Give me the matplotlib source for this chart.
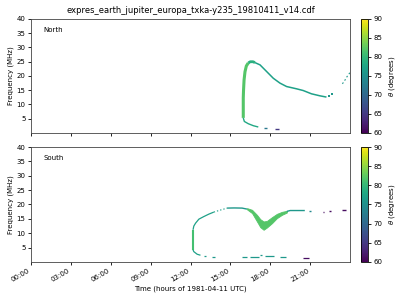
import matplotlib
matplotlib.use("Agg")
import matplotlib.pyplot as plt
import numpy as np
from matplotlib.colors import Normalize
from matplotlib.cm import ScalarMappable

title = "expres_earth_jupiter_europa_txka-y235_19810411_v14.cdf"
xticks = [0, 3, 6, 9, 12, 15, 18, 21]
xticklabels = ["00:00", "03:00", "06:00", "09:00", "12:00", "15:00", "18:00", "21:00"]
yticks = [5, 10, 15, 20, 25, 30, 35, 40]
cticks = [60, 65, 70, 75, 80, 85, 90]

# ---- North hemisphere emission (time in hours, frequency MHz, theta deg)
n_rise_t = [15.97, 15.97, 15.99, 16.03, 16.10, 16.20, 16.35]
n_rise_f = [5.3, 12.3, 15.0, 18.6, 21.5, 23.5, 24.6]
n_rise_th = 82
n_peak_t = [16.35, 16.50, 16.70, 16.85]
n_peak_f = [24.6, 25.0, 25.0, 24.7]
n_peak_th = 79
n_fall_t = [16.85, 17.23, 17.73, 18.23, 18.73, 19.23, 19.98, 20.48, 21.10, 21.73, 22.23]
n_fall_f = [24.7, 23.9, 21.55, 19.2, 17.5, 16.3, 15.5, 14.9, 13.75, 13.05, 12.6]
n_fall_th = 77
n_dots_t = [22.43, 22.65]
n_dots_f = [13.05, 13.6]
n_dots_th = 76
n_end_t = [23.43, 23.60, 23.78, 23.93, 24.0]
n_end_f = [17.25, 18.4, 19.8, 20.75, 21.2]
n_end_th = 76
n_tail_t = [15.97, 16.05, 16.35, 16.73, 17.10]
n_tail_f = [5.3, 4.05, 3.25, 2.55, 2.1]
n_tail_th = 78
n_dash1_t = [17.55, 17.72]
n_dash1_f = [1.75, 1.75]
n_dash1_th = 72
n_dash2_t = [18.35, 18.65]
n_dash2_f = [1.4, 1.4]
n_dash2_th = 65

# ---- South hemisphere emission
s_vert_t = [12.19, 12.19]
s_vert_f = [4.2, 11.2]
s_vert_th = 81
s_left_t = [12.19, 12.25, 12.38, 12.63, 13.0, 13.38, 13.75]
s_left_f = [11.2, 12.5, 13.5, 14.9, 15.8, 16.65, 17.35]
s_left_th = 77
s_leftdots_t = [13.75, 14.13, 14.5, 14.75]
s_leftdots_f = [17.35, 17.9, 18.4, 18.75]
s_leftdots_th = 77
s_top_t = [14.75, 15.3, 15.88, 16.25]
s_top_f = [18.75, 18.8, 18.75, 18.4]
s_top_th = 76
s_v_t = [16.25, 16.63, 17.0, 17.25, 17.5, 17.75, 18.13, 18.5, 18.88, 19.25]
s_v_lo = [18.3, 17.0, 14.1, 12.1, 11.2, 12.0, 13.5, 15.25, 16.4, 17.2]
s_v_hi = [18.75, 18.15, 16.4, 14.9, 14.1, 14.3, 15.6, 16.75, 17.45, 17.8]
s_v_th = 82
s_flat_t = [19.25, 19.5, 20.6]
s_flat_f = [17.6, 17.9, 17.9]
s_flat_th = 76
s_dash_t = [20.9, 21.05]
s_dash_f = [17.6, 17.6]
s_dash_th = 74
s_purple_t = [[21.95, 22.05], [22.45, 22.55], [23.38, 23.68]]
s_purple_f = [17.5, 17.8, 18.1]
s_purple_th = 61
s_low_t = [12.19, 12.25, 12.5, 12.75]
s_low_f = [4.2, 3.6, 2.7, 2.35]
s_low_th = 77
s_lowdash_t = [[13.05, 13.15], [13.63, 13.88], [15.88, 16.25], [16.5, 17.13],
               [17.2, 17.38], [17.63, 18.25], [18.75, 19.2]]
s_lowdash_f = [2.1, 1.65, 1.65, 1.9, 2.35, 2.0, 1.65]
s_lowdash_th = 76
s_lowpurple_t = [20.5, 20.95]
s_lowpurple_f = [1.3, 1.3]
s_lowpurple_th = 61

cmap = plt.get_cmap("viridis")
norm = Normalize(vmin=60, vmax=90)
FS = 5

fig = plt.figure(figsize=(4, 3), dpi=100)
ax1 = fig.add_axes([0.0775, 0.5567, 0.7975, 0.38])
ax2 = fig.add_axes([0.0775, 0.1267, 0.7975, 0.3833])
cax1 = fig.add_axes([0.9025, 0.5567, 0.0175, 0.38])
cax2 = fig.add_axes([0.9025, 0.1267, 0.0175, 0.3833])


def seg(ax, t, f, th, lw, ls="-"):
    ax.plot(t, f, color=cmap(norm(th)), lw=lw, ls=ls, solid_capstyle="butt",
            dash_capstyle="butt")


# North
seg(ax1, n_rise_t, n_rise_f, n_rise_th, 2.2)
seg(ax1, n_peak_t, n_peak_f, n_peak_th, 2.0)
seg(ax1, n_fall_t, n_fall_f, n_fall_th, 1.1)
ax1.scatter(n_dots_t, n_dots_f, s=1.2, marker="s", color=cmap(norm(n_dots_th)), lw=0)
seg(ax1, n_end_t, n_end_f, n_end_th, 0.8, ls=(0, (1.5, 2)))
seg(ax1, n_tail_t, n_tail_f, n_tail_th, 1.0)
seg(ax1, n_dash1_t, n_dash1_f, n_dash1_th, 1.0)
seg(ax1, n_dash2_t, n_dash2_f, n_dash2_th, 1.0)

# South
seg(ax2, s_vert_t, s_vert_f, s_vert_th, 1.5)
seg(ax2, s_left_t, s_left_f, s_left_th, 0.9)
seg(ax2, s_leftdots_t, s_leftdots_f, s_leftdots_th, 0.8, ls=(0, (1.2, 1.8)))
seg(ax2, s_top_t, s_top_f, s_top_th, 1.0)
ax2.fill_between(s_v_t, s_v_lo, s_v_hi, color=cmap(norm(s_v_th)), lw=0.6,
                 edgecolor=cmap(norm(s_v_th)))
seg(ax2, s_flat_t, s_flat_f, s_flat_th, 1.0)
seg(ax2, s_dash_t, s_dash_f, s_dash_th, 1.0)
for t, f in zip(s_purple_t, s_purple_f):
    seg(ax2, t, [f, f], s_purple_th, 1.0)
seg(ax2, s_low_t, s_low_f, s_low_th, 0.9)
for t, f in zip(s_lowdash_t, s_lowdash_f):
    seg(ax2, t, [f, f], s_lowdash_th, 0.9)
seg(ax2, s_lowpurple_t, s_lowpurple_f, s_lowpurple_th, 0.9)

for ax, lab in ((ax1, "North"), (ax2, "South")):
    ax.set_xlim(0, 24)
    ax.set_ylim(0, 40)
    ax.set_xticks(xticks)
    ax.set_yticks(yticks)
    ax.set_ylabel("Frequency (MHz)", fontsize=FS, labelpad=2)
    ax.tick_params(labelsize=FS, length=2.5, width=0.6, pad=1.5)
    for sp in ax.spines.values():
        sp.set_linewidth(0.6)
        sp.set_color("#444444")
    ax.text(0.04, 0.9, lab, transform=ax.transAxes, fontsize=FS, va="center")

ax1.set_xticklabels([])
ax2.set_xticklabels(xticklabels, rotation=30, ha="right")
ax2.set_xlabel("Time (hours of 1981-04-11 UTC)", fontsize=FS, labelpad=2)
ax1.set_title(title, fontsize=6, pad=4)

for cax in (cax1, cax2):
    cb = fig.colorbar(ScalarMappable(norm=norm, cmap=cmap), cax=cax)
    cb.set_ticks(cticks)
    cb.ax.tick_params(labelsize=FS, length=2.5, width=0.6, pad=1.5)
    cb.outline.set_linewidth(0.6)
    cb.set_label(r"$\theta$ (degrees)", fontsize=FS, labelpad=3)

fig.savefig("out.png", dpi=100)
